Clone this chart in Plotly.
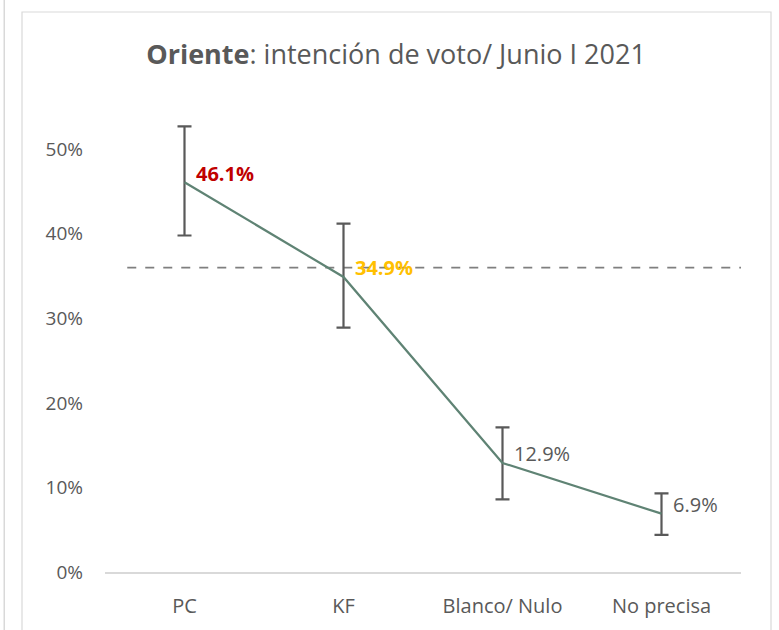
import plotly.graph_objects as go

categories = ["PC", "KF", "Blanco/ Nulo", "No precisa"]
values = [0.461, 0.349, 0.129, 0.069]
err_plus = [0.066, 0.063, 0.042, 0.024]
err_minus = [0.063, 0.060, 0.043, 0.025]
labels = ["46.1%", "34.9%", "12.9%", "6.9%"]
label_colors = ["#C00000", "#FFC000", "#595959", "#595959"]
label_bold = [True, True, False, False]
ref_value = 0.36
y_ticks = [0, 0.1, 0.2, 0.3, 0.4, 0.5]
y_ticktext = ["0%", "10%", "20%", "30%", "40%", "50%"]

W, H = 779, 630
L, R, T, B = 105, 38, 107, 58
pw, ph = W - L - R, H - T - B

def px_x(p):
    return (p - L) / pw

def px_y(p):
    return (H - B - p) / ph

fig = go.Figure()
fig.add_trace(go.Scatter(
    x=categories, y=values, mode="lines",
    line=dict(color="#5F8374", width=2.2),
    error_y=dict(type="data", array=err_plus, arrayminus=err_minus,
                 color="#595959", thickness=2.2, width=7, visible=True),
    showlegend=False, cliponaxis=False, hoverinfo="skip",
))

for c, v, t, col, b in zip(categories, values, labels, label_colors, label_bold):
    fig.add_annotation(x=c, y=v, xref="x", yref="y",
                       text=f"<b>{t}</b>" if b else t, showarrow=False,
                       xanchor="left", yanchor="middle", xshift=9, yshift=9,
                       font=dict(family="Open Sans", size=20, color=col))

fig.add_shape(type="line", xref="x", yref="y", x0=-0.36, x1=3.52,
              y0=ref_value, y1=ref_value,
              line=dict(color="#7F7F7F", width=1.6, dash="dash"), layer="below")

# outer frame
fig.add_shape(type="rect", xref="paper", yref="paper",
              x0=px_x(22), x1=px_x(771), y0=px_y(640), y1=px_y(12),
              line=dict(color="#D9D9D9", width=1.2), layer="below")
fig.add_shape(type="rect", xref="paper", yref="paper",
              x0=px_x(3.5), x1=px_x(5), y0=px_y(630), y1=px_y(0),
              line=dict(width=0), fillcolor="#D9D9D9", layer="below")

fig.update_layout(
    width=W, height=H,
    margin=dict(l=L, r=R, t=T, b=B, autoexpand=False),
    paper_bgcolor="white", plot_bgcolor="white",
    title=dict(text="<b>Oriente</b>: intención de voto/ Junio I 2021",
               x=396/W, xref="container", xanchor="center",
               y=1-55/H, yref="container", yanchor="middle",
               font=dict(family="Open Sans", size=27, color="#595959")),
    font=dict(family="Open Sans", color="#595959"),
)
fig.update_xaxes(showgrid=False, showline=True, linecolor="#D9D9D9", linewidth=1.5,
                 tickfont=dict(size=20, color="#595959"), ticks="",
                 range=[-0.5, 3.5], ticklabelstandoff=15)
fig.update_yaxes(showgrid=False, zeroline=False, showline=False,
                 range=[0, 0.55], tickvals=y_ticks, ticktext=y_ticktext,
                 tickfont=dict(size=19, color="#595959"), ticks="",
                 ticklabelstandoff=21)

fig.write_html("out.html", config={"displayModeBar": False},
               post_script="document.body.style.margin='0px';")
